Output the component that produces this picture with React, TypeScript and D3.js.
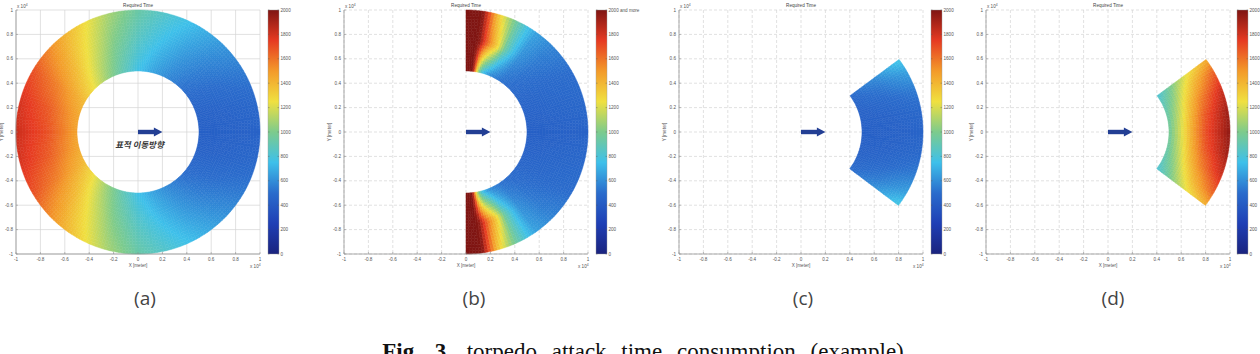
import { useEffect } from "react";
import * as d3 from "d3";

const W = 1260;
const H = 354;

// axes run from -1 to 1 (x 10^4 m) on both X and Y
const axisTicks = [-1, -0.8, -0.6, -0.4, -0.2, 0, 0.2, 0.4, 0.6, 0.8, 1];
const axisTickLabels = ["-1", "-0.8", "-0.6", "-0.4", "-0.2", "0", "0.2", "0.4", "0.6", "0.8", "1"];
const timeTicks = [0, 200, 400, 600, 800, 1000, 1200, 1400, 1600, 1800, 2000];

// required time [s] on rings of given range (x 10^4 m);
// bearing in degrees from +X, the field is mirrored about the X axis
const bearingA = [0, 15, 30, 45, 60, 75, 90, 105, 120, 135, 150, 165, 180];
const rangeA = [0.5, 0.75, 1];
const timeA = [
  [430, 440, 470, 510, 570, 650, 760, 900, 1060, 1240, 1380, 1450, 1470],
  [440, 455, 500, 560, 640, 740, 850, 1000, 1200, 1400, 1560, 1660, 1700],
  [450, 475, 540, 620, 720, 820, 930, 1100, 1320, 1520, 1700, 1790, 1820],
];

const bearingB = [0, 30, 45, 55, 60, 65, 70, 75, 78, 80, 82, 84, 90];
const rangeB = [0.5, 0.75, 1];
const timeB = [
  [430, 460, 490, 510, 530, 560, 620, 760, 950, 1200, 1600, 2000, 2000],
  [440, 480, 530, 610, 760, 950, 1300, 1550, 1720, 1850, 1980, 2000, 2000],
  [450, 500, 570, 660, 780, 930, 1120, 1380, 1620, 1800, 1980, 2000, 2000],
];

const bearingC = [0, 10, 20, 30, 37];
const rangeC = [0.5, 0.75, 1];
const timeC = [
  [430, 435, 445, 465, 490],
  [440, 450, 480, 540, 600],
  [455, 475, 540, 660, 800],
];

const bearingD = [0, 10, 20, 30, 37];
const rangeD = [0.5, 0.6, 0.7, 0.8, 0.9, 1];
const timeD = [
  [950, 930, 900, 860, 800],
  [1200, 1170, 1100, 1000, 930],
  [1480, 1440, 1350, 1200, 1080],
  [1700, 1660, 1550, 1380, 1230],
  [1830, 1800, 1700, 1520, 1330],
  [1960, 1930, 1830, 1650, 1420],
];

const panelNames = ["(a)", "(b)", "(c)", "(d)"];

// muted jet colormap
const jetStops = ["#1a237e", "#1f3fb5", "#2a6ccc", "#3ec0ea", "#7dcb8c", "#f0e040", "#f39a2a", "#e63a22", "#7f1512"];
const jet = d3
  .scaleLinear<string>()
  .domain([0, 250, 500, 750, 1000, 1250, 1500, 1750, 2000])
  .range(jetStops)
  .interpolate(d3.interpolateRgb)
  .clamp(true);

const panels = [
  { x0: 16, cb: 268, bearing: bearingA, range: rangeA, time: timeA, span: [-180, 180], dashed: false, top: "2000", name: panelNames[0], lx: 145, note: true },
  { x0: 344, cb: 596, bearing: bearingB, range: rangeB, time: timeB, span: [-90, 90], dashed: true, top: "2000 and more", name: panelNames[1], lx: 474, note: false },
  { x0: 679, cb: 931, bearing: bearingC, range: rangeC, time: timeC, span: [-37, 37], dashed: true, top: "2000", name: panelNames[2], lx: 803, note: false },
  { x0: 986, cb: 1237, bearing: bearingD, range: rangeD, time: timeD, span: [-37, 37], dashed: true, top: "2000", name: panelNames[3], lx: 1113, note: false },
];

const Y0 = 10;
const SIZE = 244;
const arc = d3.arc<any>();

function Panel({ p }: { p: (typeof panels)[number] }) {
  const x = d3.scaleLinear().domain([-1, 1]).range([p.x0, p.x0 + SIZE]);
  const y = d3.scaleLinear().domain([-1, 1]).range([Y0 + SIZE, Y0]);
  const tScale = d3.scaleLinear().domain([0, 2000]).range([Y0 + SIZE, Y0]);
  const k = x(1) - x(0);
  const cx = x(0);
  const cy = y(0);

  // required time at (range, bearing) from the ring samples
  const rows = p.time.map((row) => d3.scaleLinear().domain(p.bearing).range(row).clamp(true));
  const timeAt = (r: number, deg: number) => {
    const a = Math.abs(deg);
    return d3.scaleLinear().domain(p.range).range(rows.map((s) => s(a))).clamp(true)(r);
  };

  const dStep = 1.5;
  const rStep = 0.025;
  const nA = Math.round((p.span[1] - p.span[0]) / dStep);
  const nR = Math.round(0.5 / rStep);
  const cells: { d: string; c: string }[] = [];
  for (let i = 0; i < nA; i++) {
    const a0 = p.span[0] + i * dStep;
    const a1 = a0 + dStep;
    for (let j = 0; j < nR; j++) {
      const r0 = 0.5 + j * rStep;
      const r1 = r0 + rStep;
      const v = timeAt((r0 + r1) / 2, (a0 + a1) / 2);
      const d = arc({
        innerRadius: r0 * k,
        outerRadius: r1 * k,
        startAngle: ((90 - a1) * Math.PI) / 180,
        endAngle: ((90 - a0) * Math.PI) / 180,
      }) as string;
      cells.push({ d, c: jet(v) });
    }
  }

  const grid = "#d4d4d4";
  const tickFont = { fontFamily: "Liberation Sans, Arial, sans-serif", fontSize: 4.6, fill: "#555" };

  return (
    <g>
      {/* grid */}
      {axisTicks.map((t) => (
        <g key={"g" + t}>
          <line x1={x(t)} x2={x(t)} y1={Y0} y2={Y0 + SIZE} stroke={grid} strokeWidth={0.7} strokeDasharray={p.dashed ? "3,2" : undefined} />
          <line y1={y(t)} y2={y(t)} x1={p.x0} x2={p.x0 + SIZE} stroke={grid} strokeWidth={0.7} strokeDasharray={p.dashed ? "3,2" : undefined} />
        </g>
      ))}

      {/* field */}
      <g transform={`translate(${cx},${cy})`}>
        {cells.map((c, i) => (
          <path key={i} d={c.d} fill={c.c} stroke={c.c} strokeWidth={0.5} />
        ))}
      </g>

      {/* axes */}
      <line x1={p.x0} x2={p.x0} y1={Y0} y2={Y0 + SIZE} stroke="#888" strokeWidth={0.7} />
      <line x1={p.x0} x2={p.x0 + SIZE} y1={Y0 + SIZE} y2={Y0 + SIZE} stroke="#888" strokeWidth={0.7} />
      {axisTicks.map((t, i) => (
        <g key={"t" + t}>
          <line x1={x(t)} x2={x(t)} y1={Y0 + SIZE} y2={Y0 + SIZE - 2} stroke="#888" strokeWidth={0.5} />
          <line x1={p.x0} x2={p.x0 + 2} y1={y(t)} y2={y(t)} stroke="#888" strokeWidth={0.5} />
          <text x={x(t)} y={Y0 + SIZE + 7} textAnchor="middle" {...tickFont}>
            {axisTickLabels[i]}
          </text>
          <text x={p.x0 - 3} y={y(t) + 1.6} textAnchor="end" {...tickFont}>
            {axisTickLabels[i]}
          </text>
        </g>
      ))}
      <text x={p.x0 + 1} y={Y0 - 2} {...tickFont}>
        x 10<tspan dy={-2} fontSize={3.4}>4</tspan>
      </text>
      <text x={p.x0 + SIZE - 10} y={Y0 + SIZE + 14} {...tickFont}>
        x 10<tspan dy={-2} fontSize={3.4}>4</tspan>
      </text>
      <text x={(p.x0 + p.x0 + SIZE) / 2} y={Y0 - 3} textAnchor="middle" {...tickFont} fill="#444">
        Required Time
      </text>
      <text x={x(0)} y={Y0 + SIZE + 13} textAnchor="middle" {...tickFont}>
        X [meter]
      </text>
      <text transform={`translate(${p.x0 - 13},${cy}) rotate(-90)`} textAnchor="middle" {...tickFont}>
        Y [meter]
      </text>

      {/* heading arrow */}
      <rect x={x(0)} y={cy - 2.2} width={x(0.14) - x(0)} height={4.4} fill="#233f94" />
      <path d={`M${x(0.13)},${cy - 4.6}L${x(0.2)},${cy}L${x(0.13)},${cy + 4.6}Z`} fill="#233f94" />
      {p.note && (
        <text
          x={x(0.02)}
          y={y(-0.13)}
          textAnchor="middle"
          fontFamily="Noto Sans CJK KR"
          fontWeight="bold"
          fontSize={8.5}
          fill="#3a3a3a"
          transform={`skewX(-12)`}
          style={{ transformBox: "fill-box", transformOrigin: "center" }}
        >
          표적 이동방향
        </text>
      )}

      {/* colorbar */}
      <rect x={p.cb} y={Y0} width={11} height={SIZE} fill="url(#jetGrad)" stroke="#999" strokeWidth={0.4} />
      {timeTicks.map((t) => (
        <g key={"c" + t}>
          <line x1={p.cb} x2={p.cb + 1.5} y1={tScale(t)} y2={tScale(t)} stroke="#555" strokeWidth={0.4} />
          <line x1={p.cb + 9.5} x2={p.cb + 11} y1={tScale(t)} y2={tScale(t)} stroke="#555" strokeWidth={0.4} />
          <text x={p.cb + 12.5} y={tScale(t) + 1.6} {...tickFont}>
            {t === 2000 ? p.top : t}
          </text>
        </g>
      ))}

      <text x={p.lx} y={305} textAnchor="middle" fontFamily="Open Sans, sans-serif" fontSize={19} fill="#444">
        {p.name}
      </text>
    </g>
  );
}

export default function App() {
  useEffect(() => {
    document.body.style.margin = "0";
  }, []);

  return (
    <svg width={W} height={H} style={{ position: "fixed", left: 0, top: 0, background: "#fff" }}>
      <defs>
        <linearGradient id="jetGrad" x1="0" y1="1" x2="0" y2="0">
          {jetStops.map((c, i) => (
            <stop key={i} offset={i / (jetStops.length - 1)} stopColor={c} />
          ))}
        </linearGradient>
      </defs>
      <rect width={W} height={H} fill="#fff" />
      {panels.map((p) => (
        <Panel key={p.name} p={p} />
      ))}
      <text x={643} y={359} textAnchor="middle" fontFamily="Liberation Serif, serif" fontSize={23} wordSpacing={9} fill="#111">
        <tspan fontWeight="bold">Fig. 3.</tspan> torpedo attack time consumption (example)
      </text>
    </svg>
  );
}
